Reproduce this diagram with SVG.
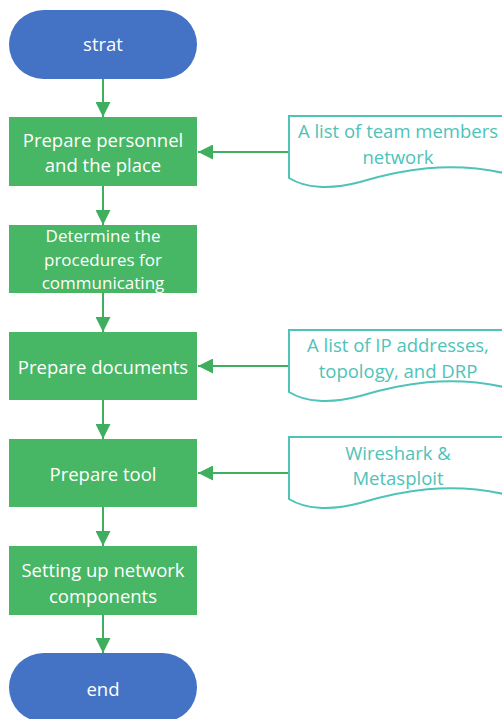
<svg xmlns="http://www.w3.org/2000/svg" width="502" height="719" viewBox="0 0 502 719">
  <defs>
    <marker id="arrow" viewBox="0 0 15 15" refX="15" refY="7.5" markerWidth="15" markerHeight="15" markerUnits="userSpaceOnUse" orient="auto">
      <path d="M0,0 L15,7.5 L0,15 Z" fill="#3FAE5E"/>
    </marker>
    <style>
      .term { fill: #4472C4; }
      .proc { fill: #47B665; }
      .doc { fill: #FFFFFF; stroke: #4EC3B8; stroke-width: 2; }
      .lbl { font-family: "Open Sans", "Liberation Sans", sans-serif; font-size: 18.5px; fill: #FFFFFF; text-anchor: middle; dominant-baseline: central; }
      .small { font-size: 17px; }
      .dlbl { font-family: "Open Sans", "Liberation Sans", sans-serif; font-size: 18.5px; fill: #4EC3B8; text-anchor: middle; dominant-baseline: central; }
      .conn { stroke: #3FAE5E; stroke-width: 2; fill: none; marker-end: url(#arrow); }
    </style>
  </defs>

  <!-- flow connectors -->
  <g id="connectors">
    <line class="conn" x1="103" y1="79" x2="103" y2="117"/>
    <line class="conn" x1="103" y1="186" x2="103" y2="225"/>
    <line class="conn" x1="103" y1="293" x2="103" y2="332"/>
    <line class="conn" x1="103" y1="400" x2="103" y2="439"/>
    <line class="conn" x1="103" y1="507" x2="103" y2="546"/>
    <line class="conn" x1="103" y1="615" x2="103" y2="653"/>
    <line class="conn" x1="289" y1="152" x2="198" y2="152"/>
    <line class="conn" x1="289" y1="366" x2="198" y2="366"/>
    <line class="conn" x1="289" y1="473" x2="198" y2="473"/>
  </g>

  <g id="start">
    <rect class="term" x="9" y="10" width="188" height="69" rx="34.5"/>
    <text class="lbl" x="103" y="43">strat</text>
  </g>

  <g id="prepare-personnel">
    <rect class="proc" x="9" y="117" width="188" height="69"/>
    <text class="lbl" x="103" y="139">Prepare personnel</text>
    <text class="lbl" x="103" y="164">and the place</text>
  </g>

  <g id="determine-procedures">
    <rect class="proc" x="9" y="225" width="188" height="68"/>
    <text class="lbl small" x="103" y="235">Determine the</text>
    <text class="lbl small" x="103" y="259">procedures for</text>
    <text class="lbl small" x="103" y="282">communicating</text>
  </g>

  <g id="prepare-documents">
    <rect class="proc" x="9" y="332" width="188" height="68"/>
    <text class="lbl" x="103" y="366">Prepare documents</text>
  </g>

  <g id="prepare-tool">
    <rect class="proc" x="9" y="439" width="188" height="68"/>
    <text class="lbl" x="103" y="473">Prepare tool</text>
  </g>

  <g id="network-components">
    <rect class="proc" x="9" y="546" width="188" height="69"/>
    <text class="lbl" x="103" y="569">Setting up network</text>
    <text class="lbl" x="103" y="595">components</text>
  </g>

  <g id="end">
    <rect class="term" x="9" y="653" width="188" height="69" rx="34.5"/>
    <text class="lbl" x="103" y="688">end</text>
  </g>

  <g id="doc-team-members">
    <path class="doc" d="M289,178 V116 H508 V174 C450,160 400,170 360,182 C330,190 305,188 289,178 Z"/>
    <text class="dlbl" x="398" y="130">A list of team members</text>
    <text class="dlbl" x="398" y="156">network</text>
  </g>

  <g id="doc-ip-addresses">
    <path class="doc" d="M289,392 V330 H508 V388 C450,374 400,384 360,396 C330,404 305,402 289,392 Z"/>
    <text class="dlbl" x="398" y="344">A list of IP addresses,</text>
    <text class="dlbl" x="398" y="370">topology, and DRP</text>
  </g>

  <g id="doc-tools">
    <path class="doc" d="M289,499 V437 H508 V495 C450,481 400,491 360,503 C330,511 305,509 289,499 Z"/>
    <text class="dlbl" x="398" y="452">Wireshark &amp;</text>
    <text class="dlbl" x="398" y="477">Metasploit</text>
  </g>
</svg>
